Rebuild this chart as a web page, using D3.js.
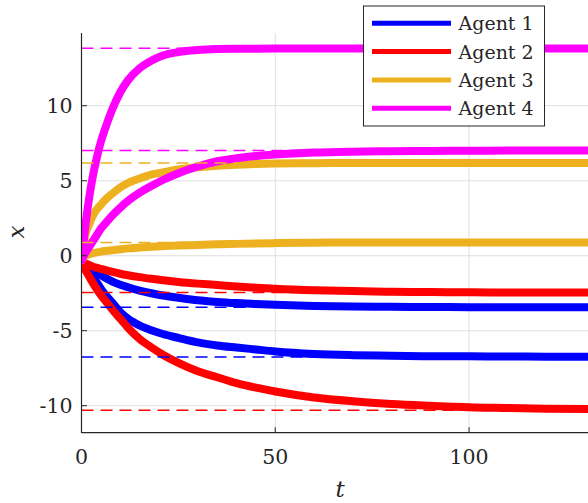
<!DOCTYPE html>
<html>
<head>
<meta charset="utf-8">
<script src="https://cdn.jsdelivr.net/npm/d3@7"></script>
<style>
  html, body { margin: 0; padding: 0; background: #fff; overflow: hidden; }
  svg { display: block; }
</style>
</head>
<body>
<svg id="chart" width="588" height="503"></svg>
<script>
// ---- data ----
const timePoints = [0, 1, 2, 3, 4, 5, 6, 8, 10, 12, 15, 18, 21, 25, 30, 35, 40, 45, 50, 60, 70, 80, 90, 100, 110, 120, 135];

const agentNames = ["Agent 1", "Agent 2", "Agent 3", "Agent 4"];
const agentColors = ["#0000ff", "#ff0000", "#edb120", "#ff00ff"];

// Agent 1 (blue)
const agent1Upper = [-0.35, -0.55, -0.75, -0.95, -1.13, -1.3, -1.45, -1.72, -1.93, -2.1, -2.32, -2.5, -2.65, -2.8, -2.97, -3.08, -3.16, -3.22, -3.27, -3.35, -3.39, -3.41, -3.42, -3.43, -3.43, -3.43, -3.43];
const agent1Lower = [-0.35, -0.7, -1.05, -1.4, -1.8, -2.2, -2.55, -3.15, -3.75, -4.2, -4.65, -4.97, -5.22, -5.48, -5.78, -5.98, -6.12, -6.25, -6.38, -6.55, -6.63, -6.67, -6.7, -6.71, -6.72, -6.73, -6.73];
// Agent 2 (red)
const agent2Upper = [-0.35, -0.5, -0.62, -0.73, -0.81, -0.88, -0.95, -1.08, -1.2, -1.3, -1.43, -1.54, -1.64, -1.75, -1.86, -1.95, -2.05, -2.13, -2.2, -2.3, -2.36, -2.4, -2.42, -2.44, -2.45, -2.45, -2.45];
const agent2Lower = [-0.4, -0.95, -1.4, -1.84, -2.25, -2.62, -2.95, -3.6, -4.2, -4.8, -5.55, -6.1, -6.6, -7.15, -7.7, -8.1, -8.5, -8.8, -9.05, -9.45, -9.7, -9.88, -10.0, -10.1, -10.15, -10.2, -10.22];
// Agent 3 (orange)
const agent3Upper = [-0.3, 1.4, 2.1, 2.7, 3.1, 3.4, 3.7, 4.15, 4.55, 4.85, 5.15, 5.4, 5.55, 5.75, 5.9, 6.0, 6.07, 6.12, 6.15, 6.17, 6.18, 6.18, 6.18, 6.18, 6.18, 6.18, 6.18];
const agent3Lower = [-0.3, 0.0, 0.1, 0.17, 0.22, 0.27, 0.31, 0.37, 0.43, 0.49, 0.55, 0.6, 0.64, 0.68, 0.72, 0.76, 0.79, 0.82, 0.84, 0.87, 0.88, 0.88, 0.88, 0.88, 0.88, 0.88, 0.88];
// Agent 4 (magenta)
const agent4Upper = [-0.3, 2.0, 3.9, 5.4, 6.6, 7.6, 8.4, 9.8, 10.9, 11.7, 12.5, 13.0, 13.35, 13.58, 13.72, 13.78, 13.8, 13.8, 13.81, 13.82, 13.82, 13.82, 13.82, 13.82, 13.82, 13.82, 13.82];
const agent4Lower = [-0.3, 0.2, 0.6, 1.0, 1.4, 1.8, 2.1, 2.7, 3.2, 3.65, 4.2, 4.65, 5.05, 5.5, 5.95, 6.3, 6.5, 6.65, 6.75, 6.88, 6.94, 6.97, 6.99, 7.0, 7.01, 7.02, 7.02];

// dashed reference levels per agent
const agent1Refs = [-3.43, -6.76];
const agent2Refs = [-2.45, -10.3];
const agent3Refs = [6.18, 0.88];
const agent4Refs = [13.83, 7.02];

const xTicks = [0, 50, 100];
const yTicks = [-10, -5, 0, 5, 10];
const yTickLabels = ["-10", "-5", "0", "5", "10"];

// ---- layout ----
const FONT = "'DejaVu Serif', serif";
const svg = d3.select("#chart");
const pLeft = 81.5, pRight = 598.5, pTop = 33, pBottom = 432.7;
const x = d3.scaleLinear().domain([0, 133.4]).range([pLeft, pRight]);
const y = d3.scaleLinear().domain([-11.8, 14.85]).range([pBottom, pTop]);

svg.append("defs").append("clipPath").attr("id", "plotclip")
  .append("rect").attr("x", pLeft).attr("y", pTop).attr("width", pRight - pLeft).attr("height", pBottom - pTop);

// grid
const grid = svg.append("g");
grid.selectAll("line.gx").data(xTicks.filter(d => d !== 0)).enter().append("line")
  .attr("x1", d => x(d)).attr("x2", d => x(d)).attr("y1", pTop).attr("y2", pBottom)
  .attr("stroke", "#dfdfdf").attr("stroke-width", 1);
grid.selectAll("line.gy").data(yTicks).enter().append("line")
  .attr("x1", pLeft).attr("x2", pRight).attr("y1", d => y(d)).attr("y2", d => y(d))
  .attr("stroke", "#dfdfdf").attr("stroke-width", 1);

// curves
const plot = svg.append("g").attr("clip-path", "url(#plotclip)");
const line = d3.line().x(d => x(d[0])).y(d => y(d[1])).curve(d3.curveMonotoneX);
const series = [
  [agent1Upper, agent1Lower],
  [agent2Upper, agent2Lower],
  [agent3Upper, agent3Lower],
  [agent4Upper, agent4Lower]
];
series.forEach((pair, i) => {
  pair.forEach(vals => {
    plot.append("path")
      .datum(timePoints.map((t, k) => [t, vals[k]]))
      .attr("d", line)
      .attr("fill", "none")
      .attr("stroke", agentColors[i])
      .attr("stroke-width", 8)
      .attr("stroke-linejoin", "round")
      .attr("stroke-linecap", "round");
  });
});

// dashed reference lines
const refs = [agent1Refs, agent2Refs, agent3Refs, agent4Refs];
refs.forEach((levels, i) => {
  levels.forEach(v => {
    plot.append("line")
      .attr("x1", pLeft).attr("x2", pRight).attr("y1", y(v)).attr("y2", y(v))
      .attr("stroke", agentColors[i]).attr("stroke-width", 1.5)
      .attr("stroke-dasharray", "12,7");
  });
});

// axes
const axes = svg.append("g");
axes.append("line").attr("x1", pLeft).attr("x2", pLeft).attr("y1", pTop).attr("y2", pBottom)
  .attr("stroke", "#262626").attr("stroke-width", 1.2);
axes.append("line").attr("x1", pLeft).attr("x2", pRight).attr("y1", pBottom).attr("y2", pBottom)
  .attr("stroke", "#262626").attr("stroke-width", 1.2);

axes.selectAll("line.ty").data(yTicks).enter().append("line")
  .attr("x1", pLeft).attr("x2", pLeft + 5.5).attr("y1", d => y(d)).attr("y2", d => y(d))
  .attr("stroke", "#262626").attr("stroke-width", 1);
axes.selectAll("line.tx").data(xTicks).enter().append("line")
  .attr("x1", d => x(d)).attr("x2", d => x(d)).attr("y1", pBottom).attr("y2", pBottom - 5.5)
  .attr("stroke", "#262626").attr("stroke-width", 1);

axes.selectAll("text.yl").data(yTicks).enter().append("text")
  .attr("x", pLeft - 9).attr("y", d => y(d) + 7.5)
  .attr("text-anchor", "end").attr("font-size", 20.5).attr("fill", "#262626")
  .style("font-family", FONT)
  .text((d, i) => yTickLabels[i]);
axes.selectAll("text.xl").data(xTicks).enter().append("text")
  .attr("x", d => x(d)).attr("y", 464)
  .attr("text-anchor", "middle").attr("font-size", 20.5).attr("fill", "#262626")
  .style("font-family", FONT)
  .text(d => d);

svg.append("text").attr("x", 340).attr("y", 497).attr("text-anchor", "middle")
  .style("font-family", FONT).attr("fill", "#262626")
  .attr("font-size", 23).attr("font-style", "italic").text("t");
svg.append("text").attr("transform", "translate(24,232) rotate(-90)").attr("text-anchor", "middle")
  .style("font-family", FONT).attr("fill", "#262626")
  .attr("font-size", 23).attr("font-style", "italic").text("x");

// legend
const lg = svg.append("g");
lg.append("rect").attr("x", 363.5).attr("y", 6).attr("width", 181).attr("height", 120)
  .attr("fill", "#fff").attr("stroke", "#262626").attr("stroke-width", 1);
agentNames.forEach((name, i) => {
  const cy = 23.3 + i * 28.3;
  lg.append("line").attr("x1", 372).attr("x2", 451).attr("y1", cy).attr("y2", cy)
    .attr("stroke", agentColors[i]).attr("stroke-width", 5);
  lg.append("text").attr("x", 458.5).attr("y", cy + 7).attr("font-size", 19)
    .style("font-family", FONT).attr("fill", "#262626")
    .text(name);
});
</script>
</body>
</html>
